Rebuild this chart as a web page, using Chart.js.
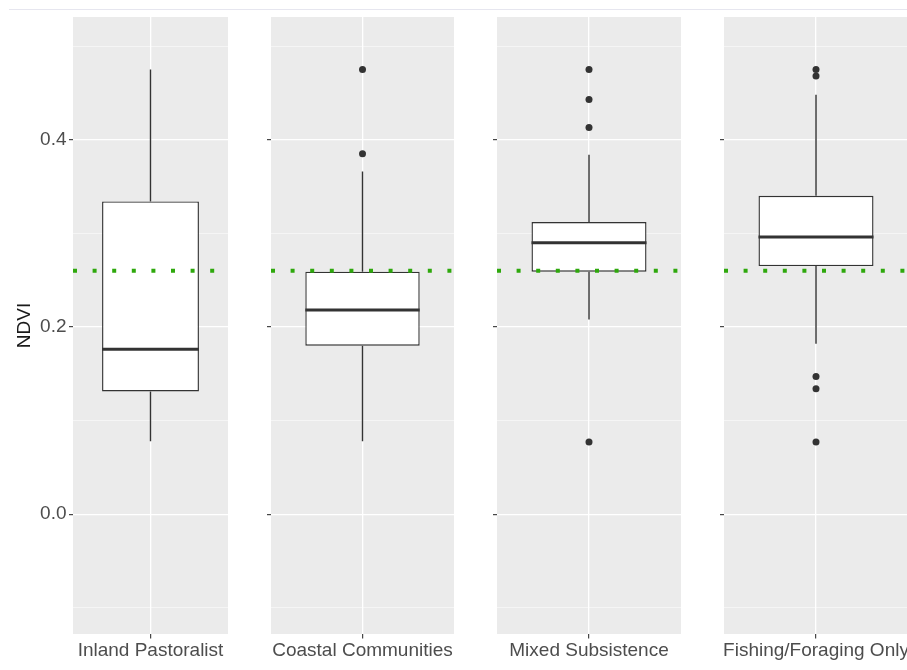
<!DOCTYPE html>
<html>
<head>
<meta charset="utf-8">
<title>NDVI by livelihood group</title>
<script src="https://cdn.jsdelivr.net/npm/chart.js@4.4.1/dist/chart.umd.min.js"></script>
<style>
  html, body { margin: 0; padding: 0; background: #fff; }
  #wrap { position: relative; width: 907px; height: 670px; overflow: hidden; }
  #wrap canvas { position: absolute; top: 0; }
  #topRule { position: absolute; left: 9px; right: 0; top: 9px; height: 1px; background: #e6e6ef; }
</style>
</head>
<body>
<div id="wrap"><div id="topRule"></div></div>
<script>
// facet order
const groups = ['Inland Pastoralist', 'Coastal Communities', 'Mixed Subsistence', 'Fishing/Foraging Only'];

// box plot stats per group
const whiskerLow  = [0.078, 0.078, 0.208, 0.182];
const q1          = [0.131, 0.180, 0.259, 0.265];
const median      = [0.176, 0.218, 0.290, 0.296];
const q3          = [0.334, 0.259, 0.312, 0.340];
const whiskerHigh = [0.475, 0.366, 0.384, 0.448];
const outliers = [
  [],
  [0.385, 0.475],
  [0.077, 0.413, 0.443, 0.475],
  [0.077, 0.134, 0.147, 0.468, 0.475]
];

// overall reference level (dotted green line)
const refLine = 0.26;

// y axis
const yMin = -0.128, yMax = 0.531;
const yTicks = [-0.1, 0.0, 0.1, 0.2, 0.3, 0.4, 0.5];
const yLabelTicks = [0.0, 0.2, 0.4];

// facet geometry
const panelLeft  = [73, 271, 497, 724];
const panelWidth = [155, 183, 184, 184];
const panelTop = 17, panelBottom = 634, pageH = 670;

const FONT = "'Liberation Sans', Arial, Helvetica, sans-serif";
const INK = '#333333';
const isMajor = v => yLabelTicks.includes(v);

// grey panel background
const panelBg = {
  id: 'panelBg',
  beforeDraw(chart) {
    const { ctx, chartArea: a } = chart;
    ctx.save();
    ctx.fillStyle = '#ebebeb';
    ctx.fillRect(a.left, a.top, a.right - a.left, a.bottom - a.top);
    ctx.restore();
  }
};

// whiskers, median bar and the reference line
const boxParts = {
  id: 'boxParts',
  beforeDatasetsDraw(chart, args, opts) {
    const i = opts.index;
    const y = chart.scales.y;
    const bar = chart.getDatasetMeta(0).data[0];
    const ctx = chart.ctx;
    ctx.save();
    ctx.strokeStyle = INK;
    ctx.lineWidth = 1.4;
    ctx.beginPath();
    ctx.moveTo(bar.x, y.getPixelForValue(q3[i]));
    ctx.lineTo(bar.x, y.getPixelForValue(whiskerHigh[i]));
    ctx.moveTo(bar.x, y.getPixelForValue(q1[i]));
    ctx.lineTo(bar.x, y.getPixelForValue(whiskerLow[i]));
    ctx.stroke();
    ctx.restore();
  },
  afterDatasetsDraw(chart, args, opts) {
    const i = opts.index;
    const y = chart.scales.y;
    const bar = chart.getDatasetMeta(0).data[0];
    const { ctx, chartArea: a } = chart;
    ctx.save();
    // median
    ctx.strokeStyle = INK;
    ctx.lineWidth = 3;
    const my = y.getPixelForValue(median[i]);
    ctx.beginPath();
    ctx.moveTo(bar.x - bar.width / 2, my);
    ctx.lineTo(bar.x + bar.width / 2, my);
    ctx.stroke();
    // dotted reference
    const ry = y.getPixelForValue(refLine);
    ctx.strokeStyle = '#2ea80c';
    ctx.lineWidth = 4;
    ctx.setLineDash([4, 15.6]);
    ctx.beginPath();
    ctx.moveTo(a.left, ry);
    ctx.lineTo(a.right, ry);
    ctx.stroke();
    ctx.restore();
  }
};

const wrap = document.getElementById('wrap');

function makePanel(i) {
  const first = i === 0;
  const axisW = first ? 73 : 8;
  const canvas = document.createElement('canvas');
  canvas.width = axisW + panelWidth[i];
  canvas.height = pageH;
  canvas.style.left = (panelLeft[i] - axisW) + 'px';
  wrap.appendChild(canvas);

  new Chart(canvas, {
    type: 'bar',
    data: {
      labels: [groups[i]],
      datasets: [
        {
          type: 'bar',
          data: [[q1[i], q3[i]]],
          backgroundColor: '#ffffff',
          borderColor: INK,
          borderWidth: 1.4,
          borderSkipped: false,
          barPercentage: 0.625,
          categoryPercentage: 1,
          order: 2
        },
        {
          type: 'line',
          data: outliers[i].map(v => ({ x: groups[i], y: v })),
          showLine: false,
          pointRadius: 3.5,
          pointBackgroundColor: INK,
          pointBorderWidth: 0,
          order: 1
        }
      ]
    },
    options: {
      responsive: false,
      animation: false,
      devicePixelRatio: 1,
      layout: { autoPadding: false, padding: { top: panelTop, left: 0, right: 0, bottom: 0 } },
      plugins: {
        legend: { display: false },
        tooltip: { enabled: false },
        boxParts: { index: i }
      },
      scales: {
        x: {
          type: 'category',
          offset: true,
          grid: { offset: false, color: '#ffffff', lineWidth: 1.3, tickLength: 4.5, tickColor: INK, tickWidth: 1.1 },
          border: { display: false },
          ticks: { color: '#4d4d4d', font: { family: FONT, size: 19 }, padding: 1, maxRotation: 0, autoSkip: false },
          afterFit(s) { s.height = pageH - panelBottom; s.paddingLeft = 0; s.paddingRight = 0; }
        },
        y: {
          min: yMin,
          max: yMax,
          bounds: 'data',
          afterBuildTicks(s) { s.ticks = yTicks.map(v => ({ value: v })); },
          grid: {
            color: c => isMajor(c.tick.value) ? '#ffffff' : 'rgba(255,255,255,0.8)',
            lineWidth: c => isMajor(c.tick.value) ? 1.3 : 0.65,
            tickColor: c => isMajor(c.tick.value) ? INK : 'rgba(0,0,0,0)',
            tickWidth: 1.1,
            tickLength: 4
          },
          border: { display: false },
          ticks: {
            display: first,
            color: '#4d4d4d',
            font: { family: FONT, size: 19 },
            padding: 2.5,
            callback: v => isMajor(v) ? v.toFixed(1) : ''
          },
          title: {
            display: first,
            text: 'NDVI',
            color: '#1a1a1a',
            font: { family: FONT, size: 19 },
            padding: { top: 13.6, bottom: 0 }
          },
          afterFit(s) { s.width = axisW; }
        }
      }
    },
    plugins: [panelBg, boxParts]
  });
}

groups.forEach((g, i) => makePanel(i));
</script>
</body>
</html>
